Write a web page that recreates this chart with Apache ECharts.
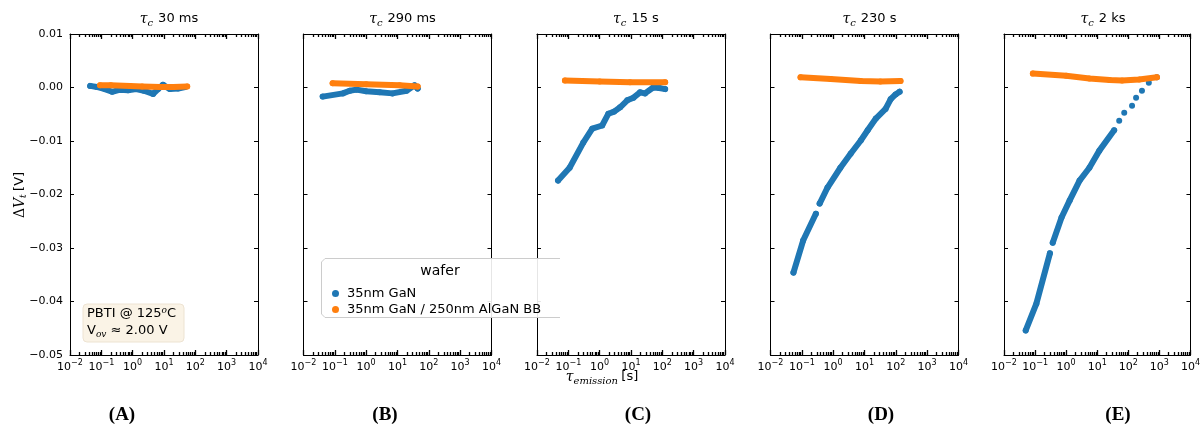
<!DOCTYPE html>
<html>
<head>
<meta charset="utf-8">
<script src="https://cdn.jsdelivr.net/npm/echarts@6/dist/echarts.min.js"></script>
<style>
  html, body { margin: 0; padding: 0; background: #fff; }
  #chart { width: 1203px; height: 430px; }
</style>
</head>
<body>
<div id="chart"></div>
<script>
// Capture times of the five panels and their letters
const captureTimes = ['30 ms', '290 ms', '15 s', '230 s', '2 ks'];
const panelLetters = ['A', 'B', 'C', 'D', 'E'];
const seriesNames = ['35nm GaN', '35nm GaN / 250nm AlGaN BB'];
const xRange = [0.01, 10000];
const yRange = [-0.05, 0.01];

// [emission time (s), threshold-voltage shift (V)]
const ganA = [[0.044, 0.0003], [0.072, 0.0001], [0.13, -0.0003], [0.22, -0.0008], [0.40, -0.0004],
  [0.71, -0.0005], [1.3, -0.0003], [2.3, -0.0006], [4.5, -0.0012], [6.5, -0.0003], [9.3, 0.0005],
  [15.5, -0.0003], [28, -0.0002], [47, 0.0001]];
const bbA = [[0.091, 0.0004], [0.2, 0.0004], [0.83, 0.0003], [2, 0.0002], [7.6, 0.0001], [20, 0.0001], [55, 0.0002]];

const ganB = [[0.041, -0.0017], [0.18, -0.0011], [0.30, -0.0006], [0.49, -0.0004], [1.0, -0.0007],
  [2.7, -0.0009], [6.9, -0.0011], [19.5, -0.0006], [35, 0.0004], [44, -0.0002]];
const bbB = [[0.085, 0.0008], [1.0, 0.0006], [11.7, 0.0004], [44, 0.0002]];

const ganC = [[0.047, -0.0174], [0.11, -0.0150], [0.30, -0.0103], [0.58, -0.0077], [1.2, -0.0071],
  [1.9, -0.0049], [2.9, -0.0045], [4.5, -0.0037], [7.6, -0.0024], [12, -0.0019], [19.5, -0.0009],
  [28, -0.0011], [51, 0.0], [80, -0.0001], [123, -0.0003]];
const bbC = [[0.078, 0.0013], [1.0, 0.0011], [9.3, 0.0010], [123, 0.0010]];

const ganDLow = [[0.054, -0.0346], [0.11, -0.0286], [0.28, -0.0236]];
const ganDHigh = [[0.37, -0.0217], [0.66, -0.0187], [1.7, -0.0150], [3.6, -0.0124], [7.6, -0.0099],
  [12.6, -0.0080], [23, -0.0058], [47, -0.0040], [68, -0.0022], [98, -0.0013], [132, -0.0008]];
const bbD = [[0.091, 0.0019], [0.83, 0.0016], [7.6, 0.0012], [32, 0.0011], [141, 0.0012]];

const ganELow = [[0.050, -0.0454], [0.11, -0.0404], [0.30, -0.0310]];
const ganEHigh = [[0.37, -0.0290], [0.71, -0.0243], [1.3, -0.0211], [2.7, -0.0174], [5.6, -0.0150],
  [11.7, -0.0118], [35, -0.0080]];
const ganETail = [[51, -0.0062], [74, -0.0047], [132, -0.0034], [178, -0.0019], [275, -0.0006],
  [457, 0.0009], [832, 0.0019]];
const bbE = [[0.085, 0.0026], [1.0, 0.0022], [5.6, 0.0017], [25, 0.0014], [63, 0.0013], [224, 0.0015], [832, 0.0019]];

const ganRuns = [[ganA], [ganB], [ganC], [ganDLow, ganDHigh], [ganELow, ganEHigh]];
const ganDots = [[], [], [], [], ganETail];
const bbRuns = [bbA, bbB, bbC, bbD, bbE];

const BLUE = '#1f77b4', ORANGE = '#ff7f0e';
const SANS = 'DejaVu Sans', SERIF = 'DejaVu Serif';
const FIRST_LEFT = 70, STEP = 233.5, PANEL_W = 188, TOP = 34, BOTTOM = 75;
const letterX = [122, 385, 638, 881, 1118];

const chart = echarts.init(document.getElementById('chart'));

function decadeLabel(v) {
  const e = Math.round(Math.log10(v));
  return '{b|10}{s|' + (e < 0 ? '\u2212' + (-e) : String(e)) + '}';
}
function voltLabel(v) {
  const s = Math.abs(v) < 1e-9 ? '0.00' : v.toFixed(2);
  return s.replace('-', '\u2212');
}
const supRich = {
  b: { fontFamily: SANS, fontSize: 11, color: '#000', lineHeight: 16 },
  s: { fontFamily: SANS, fontSize: 8, color: '#000', lineHeight: 8, verticalAlign: 'top' }
};

const grids = [], xAxes = [], yAxes = [], series = [], titles = [], graphics = [];
const axisLine = { show: true, onZero: false, lineStyle: { color: '#000', width: 1 } };

for (let i = 0; i < 5; i++) {
  const left = FIRST_LEFT + i * STEP;
  grids.push({ left: left, width: PANEL_W, top: TOP, bottom: BOTTOM, containLabel: false });

  const xBase = {
    gridIndex: i, type: 'log', logBase: 10, min: xRange[0], max: xRange[1], interval: 1,
    axisLine: axisLine, splitLine: { show: false },
    axisTick: { show: true, inside: true, length: 5, lineStyle: { color: '#000', width: 1.3 } },
    minorTick: { show: true, splitNumber: 9, length: 3, lineStyle: { color: '#000', width: 1.3 } }
  };
  xAxes.push(Object.assign({}, xBase, {
    position: 'bottom',
    axisLabel: { show: true, margin: 4, formatter: decadeLabel, rich: supRich, showMinLabel: true, showMaxLabel: true }
  }));
  xAxes.push(Object.assign({}, xBase, { position: 'top', axisLabel: { show: false } }));

  const yBase = {
    gridIndex: i, type: 'value', min: yRange[0], max: yRange[1], interval: 0.01,
    axisLine: axisLine, splitLine: { show: false },
    axisTick: { show: true, inside: true, length: 4, lineStyle: { color: '#000' } }
  };
  yAxes.push(Object.assign({}, yBase, {
    position: 'left',
    axisLabel: { show: i === 0, margin: 7, formatter: voltLabel, fontFamily: SANS, fontSize: 11, color: '#000' }
  }));
  yAxes.push(Object.assign({}, yBase, { position: 'right', axisLabel: { show: false } }));

  ganRuns[i].forEach(run => series.push({
    name: seriesNames[0], type: 'line', xAxisIndex: 2 * i, yAxisIndex: 2 * i, data: run,
    symbol: 'circle', symbolSize: 6, showSymbol: true, lineStyle: { color: BLUE, width: 6, cap: 'round', join: 'round' },
    itemStyle: { color: BLUE }, z: 2, silent: true
  }));
  if (ganDots[i].length) series.push({
    name: seriesNames[0], type: 'scatter', xAxisIndex: 2 * i, yAxisIndex: 2 * i, data: ganDots[i],
    symbolSize: 6, itemStyle: { color: BLUE, opacity: 1 }, z: 2, silent: true
  });
  series.push({
    name: seriesNames[1], type: 'line', xAxisIndex: 2 * i, yAxisIndex: 2 * i, data: bbRuns[i],
    symbol: 'circle', symbolSize: 6, showSymbol: true, lineStyle: { color: ORANGE, width: 6, cap: 'round', join: 'round' },
    itemStyle: { color: ORANGE }, z: 3, silent: true
  });

  titles.push({
    text: '{t|\u03c4}{c|c} {n|' + captureTimes[i] + '}',
    left: left + PANEL_W / 2, top: 5, textAlign: 'center',
    textStyle: {
      fontWeight: 'normal',
      rich: {
        t: { fontFamily: SERIF, fontStyle: 'italic', fontWeight: 'normal', fontSize: 14, lineHeight: 18, color: '#000' },
        c: { fontFamily: SERIF, fontStyle: 'italic', fontWeight: 'normal', fontSize: 10, lineHeight: 10, verticalAlign: 'bottom', color: '#000' },
        n: { fontFamily: SANS, fontWeight: 'normal', fontSize: 13, lineHeight: 18, color: '#000' }
      }
    }
  });

  graphics.push({
    type: 'text', x: letterX[i], y: 415, z: 50,
    style: { text: '(' + panelLetters[i] + ')', font: 'bold 19px "Liberation Serif"', fill: '#000', align: 'center', verticalAlign: 'middle' }
  });
}

// Shared axis titles
graphics.push({
  type: 'text', x: 20, y: 195, rotation: Math.PI / 2, z: 50,
  style: {
    text: '{d|\u0394}{v|V}{s|t} {n|[V]}', align: 'center', verticalAlign: 'middle',
    rich: {
      d: { fontFamily: SERIF, fontSize: 14, lineHeight: 16, fill: '#000' },
      v: { fontFamily: SERIF, fontStyle: 'italic', fontSize: 14, lineHeight: 16, fill: '#000' },
      s: { fontFamily: SERIF, fontStyle: 'italic', fontSize: 9, lineHeight: 9, verticalAlign: 'bottom', fill: '#000' },
      n: { fontFamily: SANS, fontSize: 13, lineHeight: 16, fill: '#000' }
    }
  }
});
graphics.push({
  type: 'text', x: 602, y: 377, z: 50,
  style: {
    text: '{t|\u03c4}{s|emission} {n|[s]}', align: 'center', verticalAlign: 'middle',
    rich: {
      t: { fontFamily: SERIF, fontStyle: 'italic', fontSize: 14, lineHeight: 18, fill: '#000' },
      s: { fontFamily: SERIF, fontStyle: 'italic', fontSize: 10, lineHeight: 10, verticalAlign: 'bottom', fill: '#000' },
      n: { fontFamily: SANS, fontSize: 13, lineHeight: 18, fill: '#000' }
    }
  }
});

// Stress-condition note in the first panel
graphics.push({
  type: 'rect', z: 40, shape: { x: 83, y: 304, width: 101, height: 38, r: 4 },
  style: { fill: '#FAF3E6', stroke: '#EDE3D2', lineWidth: 1 }
});
graphics.push({
  type: 'text', x: 87, y: 314, z: 41,
  style: {
    text: '{n|PBTI @ 125}{o|o}{n|C}', verticalAlign: 'middle',
    rich: {
      n: { fontFamily: SANS, fontSize: 13, lineHeight: 16, fill: '#000' },
      o: { fontFamily: SERIF, fontStyle: 'italic', fontSize: 9, lineHeight: 9, verticalAlign: 'top', fill: '#000' }
    }
  }
});
graphics.push({
  type: 'text', x: 87, y: 331, z: 41,
  style: {
    text: '{n|V}{s|ov}{n| \u2248 2.00 V}', verticalAlign: 'middle',
    rich: {
      n: { fontFamily: SANS, fontSize: 13, lineHeight: 16, fill: '#000' },
      s: { fontFamily: SERIF, fontStyle: 'italic', fontSize: 9, lineHeight: 9, verticalAlign: 'bottom', fill: '#000' }
    }
  }
});

// Legend frame (its right edge runs off past the next panel)
graphics.push({
  type: 'rect', z: 60, shape: { x: 321, y: 258, width: 239, height: 60 },
  style: { fill: 'rgba(255,255,255,0.9)' }
});
graphics.push({
  type: 'polyline', z: 61,
  shape: { points: [[560, 258.5], [325, 258.5], [321.5, 262], [321.5, 314], [325, 317.5], [560, 317.5]] },
  style: { stroke: '#cccccc', lineWidth: 1, fill: null }
});
graphics.push({
  type: 'text', x: 440, y: 271, z: 62,
  style: { text: 'wafer', font: '14px "DejaVu Sans"', fill: '#000', align: 'center', verticalAlign: 'middle' }
});

chart.setOption({
  animation: false,
  title: titles,
  grid: grids,
  xAxis: xAxes,
  yAxis: yAxes,
  series: series,
  legend: {
    data: seriesNames.map(n => ({ name: n, icon: 'circle' })),
    orient: 'vertical', left: 327, top: 282, itemWidth: 7, itemHeight: 7, itemGap: 3,
    textStyle: { fontFamily: SANS, fontSize: 13, color: '#000', padding: [0, 0, 0, 3] },
    selectedMode: false, z: 70
  },
  graphic: graphics
});
</script>
</body>
</html>
